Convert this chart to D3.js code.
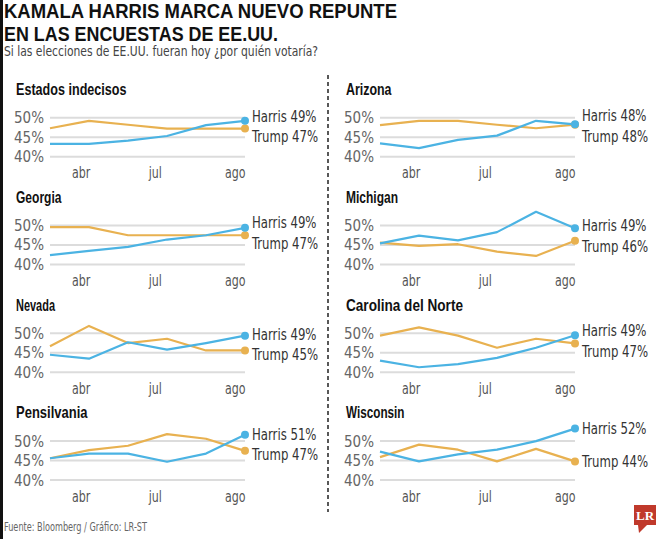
<!DOCTYPE html>
<html>
<head>
<meta charset="utf-8">
<script src="https://cdn.jsdelivr.net/npm/d3@7"></script>
<style>
  html, body { margin: 0; padding: 0; background: #fff; }
  svg { display: block; }
</style>
</head>
<body>
<script>
// ---------- DATA ----------
const states = ["Estados indecisos", "Arizona", "Georgia", "Michigan", "Nevada", "Carolina del Norte", "Pensilvania", "Wisconsin"];
const harris = [
  [43.3, 43.3, 44.1, 45.3, 48.1, 49.2],
  [43.4, 42.2, 44.3, 45.4, 49.2, 48.3],
  [42.4, 43.5, 44.5, 46.4, 47.5, 49.4],
  [45.4, 47.4, 46.2, 48.3, 53.5, 49.3],
  [44.5, 43.5, 47.7, 45.8, 47.5, 49.4],
  [43.0, 41.3, 42.1, 43.7, 46.3, 49.5],
  [45.6, 46.8, 46.8, 44.7, 46.8, 51.6],
  [47.3, 44.8, 46.6, 47.8, 50.0, 53.2]
];
const trump = [
  [47.3, 49.2, 48.2, 47.2, 47.2, 47.2],
  [48.1, 49.2, 49.2, 48.2, 47.3, 48.2],
  [49.6, 49.6, 47.5, 47.5, 47.5, 47.5],
  [45.6, 44.8, 45.2, 43.3, 42.2, 46.1],
  [46.7, 51.9, 47.5, 48.6, 45.6, 45.6],
  [49.4, 51.5, 49.4, 46.3, 48.6, 47.4],
  [45.6, 47.7, 48.8, 51.8, 50.6, 47.5],
  [45.9, 49.1, 47.8, 44.8, 48.0, 44.8]
];
const harrisFinal = [49, 48, 49, 49, 49, 49, 51, 52];
const trumpFinal  = [47, 48, 47, 46, 45, 47, 47, 44];
const yTicks = [40, 45, 50];
const monthLabels = ["abr", "jul", "ago"];
const monthIndex = [0.8, 2.7, 4.75];

// ---------- STYLE ----------
const W = 662, H = 539;
const BLUE = "#4bb3e3", ORANGE = "#e8b150";
const NARROW = "'DejaVu Sans Condensed', 'Liberation Sans Narrow', sans-serif";
const BOLD = "'Liberation Sans', 'Open Sans', sans-serif";

function squeeze(sel, f) {
  sel.each(function() {
    const w = this.getComputedTextLength();
    d3.select(this).attr("textLength", w * f).attr("lengthAdjust", "spacingAndGlyphs");
  });
}

const svg = d3.select("body").append("svg").attr("width", W).attr("height", H);
svg.append("rect").attr("width", W).attr("height", H).attr("fill", "#fff");
svg.append("rect").attr("x", 0).attr("y", 0).attr("width", 3).attr("height", H).attr("fill", "#111");

// Header
svg.append("text").attr("x", 4).attr("y", 18)
  .attr("font-family", BOLD).attr("font-weight", 700)
  .attr("font-size", 19.5).attr("fill", "#111")
  .attr("textLength", 393).attr("lengthAdjust", "spacingAndGlyphs")
  .text("KAMALA HARRIS MARCA NUEVO REPUNTE");
svg.append("text").attr("x", 4).attr("y", 40.5)
  .attr("font-family", BOLD).attr("font-weight", 700)
  .attr("font-size", 19.5).attr("fill", "#111")
  .attr("textLength", 274).attr("lengthAdjust", "spacingAndGlyphs")
  .text("EN LAS ENCUESTAS DE EE.UU.");
svg.append("text").attr("x", 4).attr("y", 56)
  .attr("font-family", NARROW).attr("font-size", 13.5).attr("fill", "#444")
  .attr("textLength", 314).attr("lengthAdjust", "spacingAndGlyphs")
  .text("Si las elecciones de EE.UU. fueran hoy ¿por quién votaría?");

// Divider
svg.append("line").attr("x1", 328).attr("x2", 328).attr("y1", 75).attr("y2", 512)
  .attr("stroke", "#222").attr("stroke-width", 1.5).attr("stroke-dasharray", "4,3");

// Panels
const colOffset = [0, 330];
const rowGrid50 = 117.7, rowStep = 107.8;

states.forEach((name, i) => {
  const col = i % 2, row = Math.floor(i / 2);
  const ox = colOffset[col];
  const g50 = rowGrid50 + row * rowStep;
  const g40 = g50 + 39;
  const x = d3.scaleLinear().domain([0, 5]).range([ox + 50, ox + 245]);
  const y = d3.scaleLinear().domain([40, 50]).range([g40, g50]);
  const g = svg.append("g");

  // title
  g.append("text").attr("x", ox + 16).attr("y", g50 - 22.7)
    .attr("font-family", BOLD).attr("font-weight", 700)
    .attr("font-size", 16.5).attr("fill", "#111")
    .attr("textLength", name.length * 6.5).attr("lengthAdjust", "spacingAndGlyphs")
    .text(name);

  // gridlines + y labels
  yTicks.forEach(t => {
    g.append("line").attr("x1", x(0)).attr("x2", x(5)).attr("y1", y(t)).attr("y2", y(t))
      .attr("stroke", "#dcdcdc").attr("stroke-width", 2);
    g.append("text").attr("x", x(0) - 6).attr("y", y(t)).attr("dy", "0.36em")
      .attr("text-anchor", "end").attr("font-family", NARROW).attr("font-size", 15)
      .attr("fill", "#666").text(t + "%");
  });

  // month labels
  monthLabels.forEach((m, k) => {
    g.append("text").attr("x", x(monthIndex[k])).attr("y", g40 + 21.6)
      .attr("text-anchor", "middle").attr("font-family", NARROW).attr("font-size", 15)
      .attr("fill", "#555").text(m)
      .call(squeeze, 0.82);
  });

  const line = d3.line().x((d, k) => x(k)).y(d => y(d));
  g.append("path").datum(trump[i]).attr("d", line).attr("fill", "none")
    .attr("stroke", ORANGE).attr("stroke-width", 2.2).attr("stroke-linejoin", "round");
  g.append("path").datum(harris[i]).attr("d", line).attr("fill", "none")
    .attr("stroke", BLUE).attr("stroke-width", 2.2).attr("stroke-linejoin", "round");

  const last = 5;
  const ht = harris[i][last], tt = trump[i][last];
  g.append("circle").attr("cx", x(last)).attr("cy", y(tt)).attr("r", 4).attr("fill", ORANGE);
  g.append("circle").attr("cx", x(last)).attr("cy", y(ht)).attr("r", 4).attr("fill", BLUE);

  // label placement with minimum separation
  let hy = y(ht), ty = y(tt);
  const minGap = 20.5;
  if (ty - hy < minGap) {
    const mid = (hy + ty) / 2 + 1.5;
    hy = mid - minGap / 2; ty = mid + minGap / 2;
  }
  g.append("text").attr("x", x(last) + 7).attr("y", hy).attr("dy", "0.36em")
    .attr("font-family", NARROW).attr("font-size", 15.5).attr("fill", "#333")
    .text("Harris " + harrisFinal[i] + "%")
    .call(squeeze, 0.84);
  g.append("text").attr("x", x(last) + 7).attr("y", ty).attr("dy", "0.36em")
    .attr("font-family", NARROW).attr("font-size", 15.5).attr("fill", "#333")
    .text("Trump " + trumpFinal[i] + "%")
    .call(squeeze, 0.84);
});

// Footer
svg.append("text").attr("x", 4).attr("y", 531)
  .attr("font-family", NARROW).attr("font-size", 12).attr("fill", "#666")
  .attr("textLength", 143).attr("lengthAdjust", "spacingAndGlyphs")
  .text("Fuente: Bloomberg / Gráfico: LR-ST");

// Logo
const logo = svg.append("g");
logo.append("rect").attr("x", 634).attr("y", 505).attr("width", 22).attr("height", 20).attr("fill", "#c0392b");
logo.append("path").attr("d", "M638,525 L647,525 L639,533 Z").attr("fill", "#c0392b");
logo.append("text").attr("x", 645).attr("y", 520).attr("text-anchor", "middle")
  .attr("font-family", "'Liberation Serif', 'DejaVu Serif', serif").attr("font-weight", 700)
  .attr("font-size", 13).attr("fill", "#fff").text("LR");
</script>
</body>
</html>
